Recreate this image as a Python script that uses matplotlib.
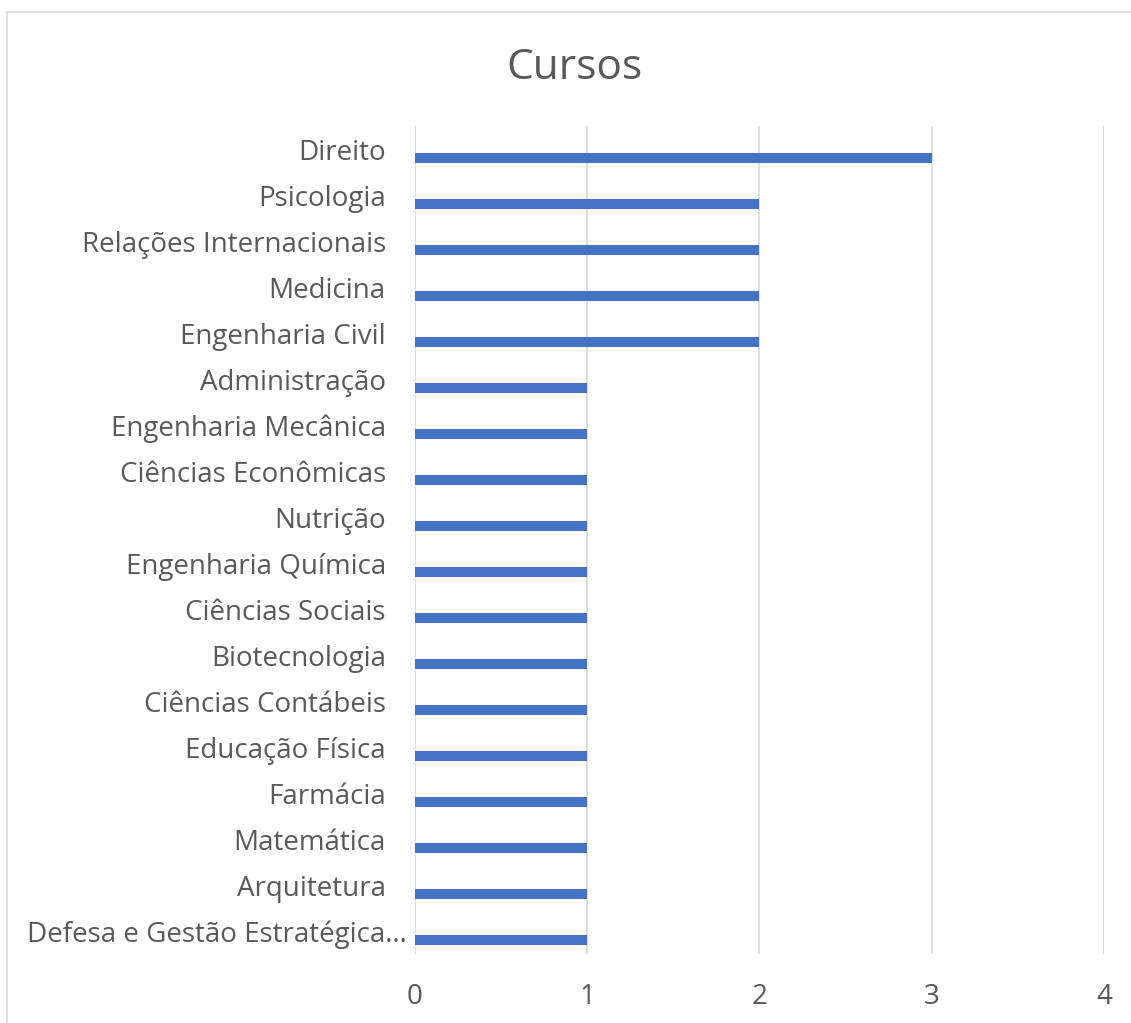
import matplotlib.pyplot as plt
from matplotlib.patches import Rectangle
from matplotlib.transforms import ScaledTranslation

cursos = ['Direito', 'Psicologia', 'Relações Internacionais', 'Medicina',
          'Engenharia Civil', 'Administração', 'Engenharia Mecânica',
          'Ciências Econômicas', 'Nutrição', 'Engenharia Química',
          'Ciências Sociais', 'Biotecnologia', 'Ciências Contábeis',
          'Educação Física', 'Farmácia', 'Matemática', 'Arquitetura',
          'Defesa e Gestão Estratégica…']
alunos = [3, 2, 2, 2, 2, 1, 1, 1, 1, 1, 1, 1, 1, 1, 1, 1, 1, 1]
xticks = [0, 1, 2, 3, 4]

plt.rcParams['font.family'] = ['Open Sans', 'DejaVu Sans']
cinza = '#595959'

fig = plt.figure(figsize=(11.31, 10.23), dpi=100)
ax = fig.add_axes([0.3669, 0.0674, 0.6092, 0.8094])

pos = list(range(len(cursos)))
# barra deslocada dentro da faixa, como no grafico agrupado do Excel
ax.barh([p + 0.2 for p in pos], alunos, height=0.21, color='#4472C4', zorder=3)

ax.set_xlim(0, 4)
ax.set_ylim(len(cursos) - 0.5, -0.5)
ax.set_xticks(xticks)
ax.set_yticks(pos)
ax.set_yticklabels(cursos)
ax.tick_params(axis='y', length=0, pad=21, labelsize=20, labelcolor=cinza)
ax.tick_params(axis='x', length=0, pad=21, labelsize=20, labelcolor=cinza)
ax.grid(axis='x', color='#D9D9D9', linewidth=1.2, zorder=0)
for s in ax.spines.values():
    s.set_visible(False)

# o rotulo truncado avanca um pouco alem dos outros
ultimo = ax.get_yticklabels()[-1]
ultimo.set_transform(ultimo.get_transform() +
                     ScaledTranslation(0.21, 0, fig.dpi_scale_trans))

fig.text(0.508, 1 - 68 / 1023, 'Cursos', ha='center', va='center',
         fontsize=30.5, color=cinza)

# moldura da area do grafico
fig.patches.append(Rectangle((7 / 1131, -0.05), 1.2, 1 - 12 / 1023 + 0.05,
                             transform=fig.transFigure, fill=False,
                             edgecolor='#D9D9D9', linewidth=1.2))

plt.savefig('out.png')
